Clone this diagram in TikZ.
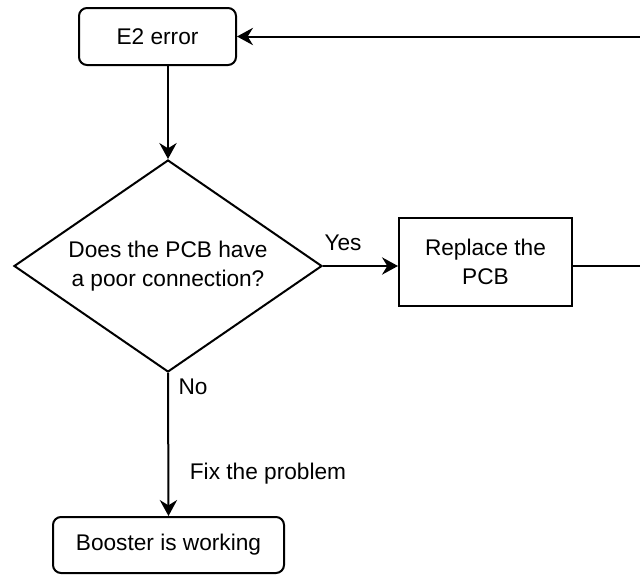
\documentclass[tikz,border=0pt]{standalone}
\usepackage{fontspec}
\setmainfont{Liberation Sans}
\usetikzlibrary{shapes.geometric,arrows.meta}
\begin{document}
\begin{tikzpicture}[x=0.75pt,y=-0.75pt,
 box/.style={draw,line width=1.5pt,rounded corners=6pt,align=center,inner sep=0pt},
 sqbox/.style={draw,line width=1.5pt,align=center,inner sep=0pt},
 dec/.style={draw,diamond,line width=1.5pt,align=center,inner sep=0pt,shape aspect=1.45,minimum width=231pt,minimum height=159pt},
 conn/.style={line width=1.5pt,-{Stealth[length=12pt,width=13pt,inset=4pt]}},
 plainline/.style={line width=1.5pt},
 lbl/.style={inner sep=0pt},
 font=\fontsize{17}{21.75}\selectfont]
\useasboundingbox (0,0) rectangle (640,575);
\clip (0,0) rectangle (640,575);
\node[box,minimum width=117.75pt,minimum height=42.75pt] (e2) at (157.5,36.5) {E2 error};
\node[dec] (q) at (168,266) {Does the PCB have\\a poor connection?};
\node[sqbox,minimum width=129.75pt,minimum height=66pt] (rep) at (485.5,261.5) {Replace the\\PCB};
\node[box,minimum width=173.25pt,minimum height=42pt] (ok) at (168.5,545) {Booster is working};
\node[lbl] (yes) at (343,243) {Yes};
\node[lbl] (no) at (193,387) {No};
\node[lbl] (fix) at (268,474) {Fix the problem};
\coordinate (r1) at (660,266);
\coordinate (r2) at (660,36.5);
\draw[conn] (q.north |- e2.south) -- (q.north);
\draw[conn] (q.east) -- (q.east -| rep.west);
\draw[conn] (q.south) -- (ok.north);
\draw[conn] (rep.east |- q.east) -- (r1) -- (r2) -- (e2.east);
\end{tikzpicture}
\end{document}
